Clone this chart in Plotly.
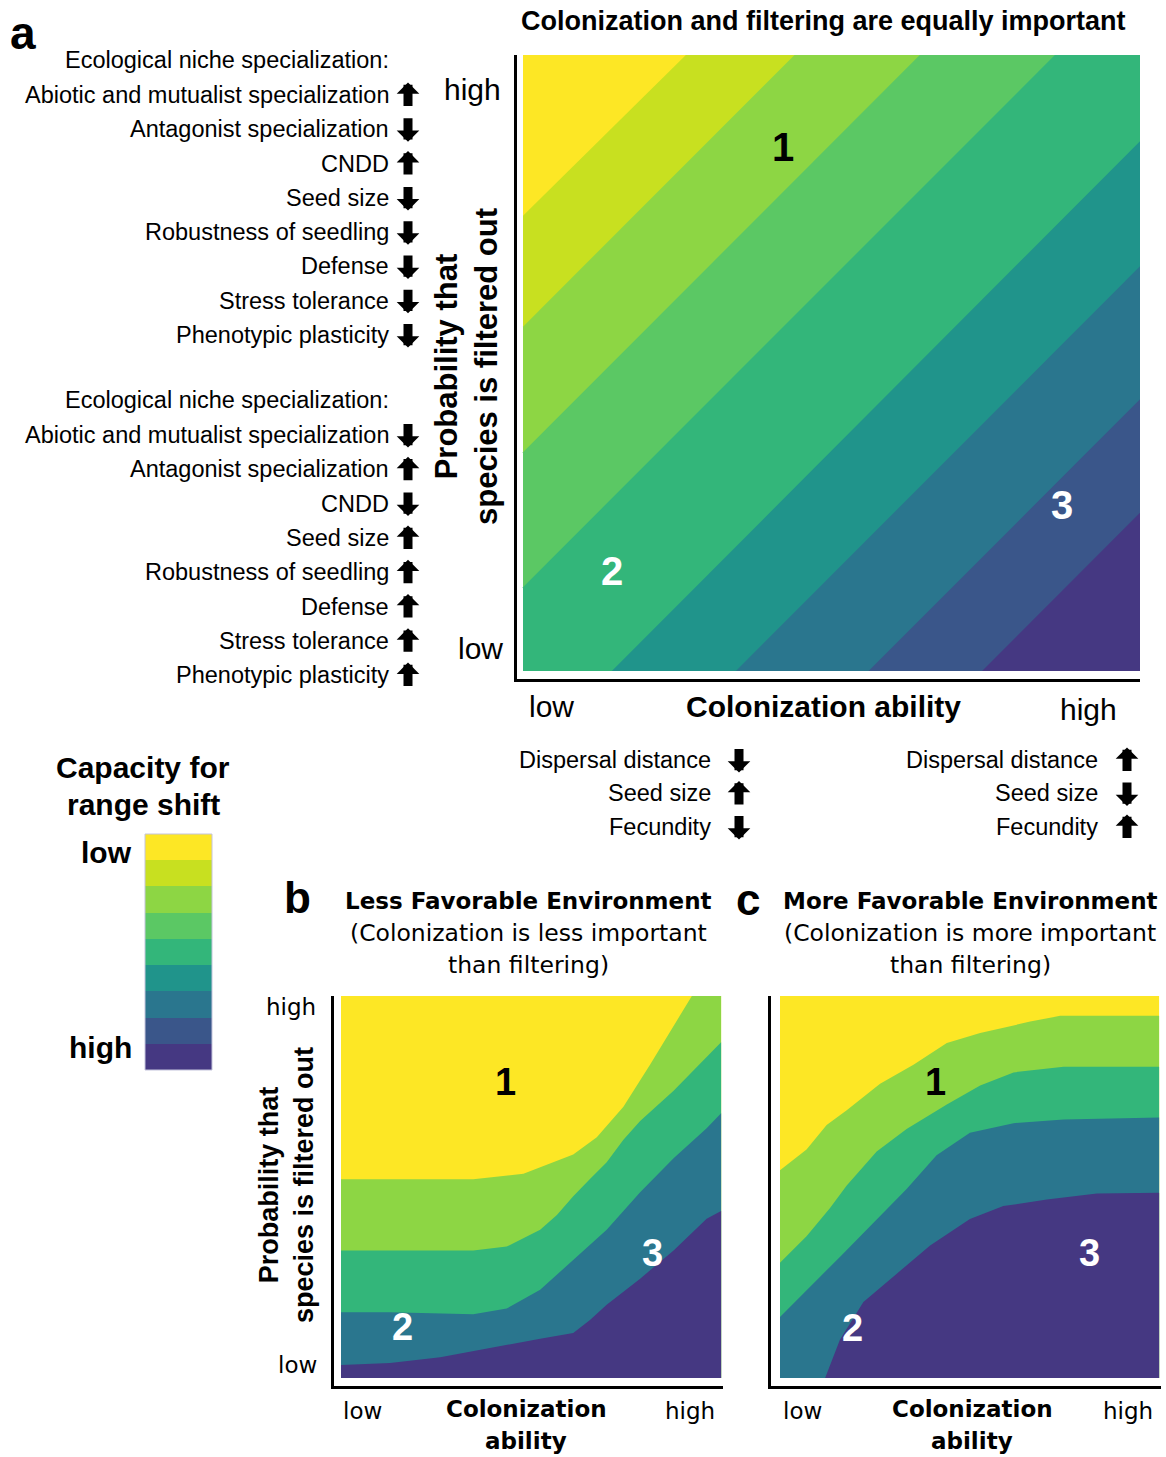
import plotly.graph_objects as go

W, H = 1166, 1457
ARIAL = "Liberation Sans, Arial, Helvetica, sans-serif"
VERD = "DejaVu Sans, Verdana, sans-serif"

# ---------------- data ----------------
capacity_levels = [0, 1, 2, 3, 4, 5, 6, 7, 8]          # 0 = low capacity, 8 = high capacity
capacity_labels = ["low", "", "", "", "", "", "", "", "high"]
capacity_colors = ["#fde725", "#c8e020", "#8dd644", "#5bc864", "#33b67a",
                   "#20948b", "#2a768e", "#3a568a", "#453882"]

# Panel a: band boundaries (normalized colonization x, filtering y), top-left to bottom-right
a_bound_x = [[0, 0.264], [0, 0.440], [0, 0.643], [0, 0.862],
             [0.144, 1], [0.345, 1], [0.560, 1], [0.744, 1]]
a_bound_y = [[0.739, 1], [0.559, 1], [0.355, 1], [0.136, 1],
             [0, 0.860], [0, 0.657], [0, 0.441], [0, 0.257]]
a_color_idx = [0, 1, 2, 3, 4, 5, 6, 7, 8]

# Panel b: less favorable environment
b_bound_x = [
    [0, 0.348, 0.480, 0.611, 0.673, 0.743, 0.813, 0.875, 0.923, 1.0],
    [0, 0.348, 0.436, 0.524, 0.568, 0.611, 0.655, 0.699, 0.743, 0.787, 0.875, 0.962, 1.0],
    [0, 0.129, 0.348, 0.436, 0.524, 0.568, 0.611, 0.655, 0.699, 0.787, 0.875, 0.962, 1.0],
    [0, 0.129, 0.261, 0.392, 0.524, 0.611, 0.655, 0.699, 0.787, 0.875, 0.962, 1.0],
]
b_bound_y = [
    [0.520, 0.520, 0.535, 0.585, 0.630, 0.710, 0.820, 0.920, 1.0, 1.0],
    [0.334, 0.334, 0.344, 0.388, 0.427, 0.476, 0.521, 0.565, 0.624, 0.673, 0.752, 0.840, 0.879],
    [0.172, 0.172, 0.167, 0.182, 0.231, 0.270, 0.309, 0.349, 0.388, 0.486, 0.575, 0.654, 0.693],
    [0.034, 0.039, 0.054, 0.079, 0.103, 0.118, 0.152, 0.192, 0.260, 0.334, 0.417, 0.437],
]
b_color_idx = [0, 2, 4, 6, 8]

# Panel c: more favorable environment
c_bound_x = [
    [0, 0.070, 0.123, 0.176, 0.264, 0.352, 0.440, 0.528, 0.660, 0.739, 1.0],
    [0, 0.070, 0.132, 0.176, 0.255, 0.334, 0.440, 0.528, 0.616, 0.748, 1.0],
    [0, 0.070, 0.158, 0.246, 0.334, 0.413, 0.501, 0.616, 0.748, 1.0],
    [0, 0.119, 0.158, 0.220, 0.308, 0.396, 0.501, 0.589, 0.704, 0.836, 1.0],
]
c_bound_y = [
    [0.544, 0.598, 0.662, 0.701, 0.770, 0.820, 0.877, 0.903, 0.933, 0.948, 0.948],
    [0.302, 0.371, 0.445, 0.504, 0.593, 0.652, 0.716, 0.766, 0.800, 0.815, 0.815],
    [0.160, 0.229, 0.317, 0.406, 0.495, 0.583, 0.642, 0.667, 0.677, 0.682],
    [0.0, 0.0, 0.100, 0.199, 0.273, 0.347, 0.416, 0.450, 0.467, 0.483, 0.485],
]
c_color_idx = [0, 2, 4, 6, 8]

niche_traits = ["Abiotic and mutualist specialization", "Antagonist specialization", "CNDD",
                "Seed size", "Robustness of seedling", "Defense", "Stress tolerance",
                "Phenotypic plasticity"]
niche_dirs_high_filter = ["up", "down", "up", "down", "down", "down", "down", "down"]
niche_dirs_low_filter = ["down", "up", "down", "up", "up", "up", "up", "up"]
colon_traits = ["Dispersal distance", "Seed size", "Fecundity"]
colon_dirs_low = ["down", "up", "down"]
colon_dirs_high = ["up", "down", "up"]

# ---------------- helpers ----------------
def px(x):
    return x / W


def py(y):
    return 1 - y / H


def complete(xs, ys):
    xs, ys = list(xs), list(ys)
    if xs[0] > 0:
        xs.insert(0, 0.0)
        ys.insert(0, ys[0])
    if xs[-1] < 1:
        xs.append(1.0)
        ys.append(ys[-1])
    return xs, ys


fig = go.Figure()


def add_bands(bx, by, cidx, xa, ya):
    cols = [capacity_colors[i] for i in cidx]
    fig.add_trace(go.Scatter(x=[0, 1], y=[1, 1], mode="lines", line=dict(width=0),
                             fill="tozeroy", fillcolor=cols[0], xaxis=xa, yaxis=ya,
                             hoverinfo="skip", showlegend=False))
    for i in range(len(bx)):
        xs, ys = complete(bx[i], by[i])
        fig.add_trace(go.Scatter(x=xs, y=ys, mode="lines", line=dict(width=0),
                                 fill="tozeroy", fillcolor=cols[i + 1], xaxis=xa, yaxis=ya,
                                 hoverinfo="skip", showlegend=False))


add_bands(a_bound_x, a_bound_y, a_color_idx, "x", "y")
add_bands(b_bound_x, b_bound_y, b_color_idx, "x2", "y2")
add_bands(c_bound_x, c_bound_y, c_color_idx, "x3", "y3")

# colour key
cscale = []
n = len(capacity_colors)
for i, c in enumerate(capacity_colors):
    cscale.append([i / n, c])
    cscale.append([(i + 1) / n, c])
fig.add_trace(go.Heatmap(x=[0], y=capacity_levels, z=[[v] for v in capacity_levels],
                         colorscale=cscale, zmin=-0.5, zmax=n - 0.5, showscale=False,
                         xaxis="x4", yaxis="y4", hoverinfo="skip"))


def axis(domain, rng, anchor):
    return dict(domain=domain, range=rng, anchor=anchor, showline=True, linewidth=3,
                linecolor="black", showgrid=False, zeroline=False, showticklabels=False,
                ticks="", fixedrange=True)


layout = dict(
    width=W, height=H, autosize=False,
    margin=dict(l=0, r=0, t=0, b=0),
    paper_bgcolor="white", plot_bgcolor="white",
    showlegend=False,
    xaxis=axis([px(517), px(1140)], [-6 / 617, 1], "y"),
    yaxis=axis([py(679), py(55)], [-8 / 616, 1], "x"),
    xaxis2=axis([px(334), px(723)], [-7 / 380, 1.005], "y2"),
    yaxis2=axis([py(1386), py(996)], [-8 / 382, 1], "x2"),
    xaxis3=axis([px(771), px(1161)], [-9 / 379, 1.005], "y3"),
    yaxis3=axis([py(1386), py(996)], [-8 / 382, 1], "x3"),
    xaxis4=dict(domain=[px(145), px(212)], anchor="y4", visible=False, fixedrange=True),
    yaxis4=dict(domain=[py(1070), py(834)], anchor="x4", visible=False,
                autorange="reversed", fixedrange=True),
)
fig.update_layout(**layout)

fig.add_shape(type="rect", xref="x4 domain", yref="y4 domain", x0=0, x1=1, y0=0, y1=1,
              line=dict(color="#c4c4dc", width=1))

ann = []


def text(x, y, s, size, family=ARIAL, color="black", xanchor="center", bold=False, angle=0):
    if bold:
        s = "<b>" + s + "</b>"
    ann.append(dict(x=px(x), y=py(y), xref="paper", yref="paper", text=s, showarrow=False,
                    xanchor=xanchor, yanchor="middle", textangle=angle,
                    font=dict(family=family, size=size, color=color)))


def arrow(x, yc, direction, length=25):
    if direction == "up":
        tip, ay = yc - length / 2, length
    else:
        tip, ay = yc + length / 2, -length
    ann.append(dict(x=px(x), y=py(tip), xref="paper", yref="paper", text="", showarrow=True,
                    ax=0, ay=ay, arrowhead=1, arrowwidth=9, arrowsize=0.42,
                    arrowcolor="black"))


# panel letters
text(23, 33, "a", 46, bold=True)
text(297, 897, "b", 44, bold=True)
text(748, 899, "c", 44, bold=True)

# panel a title
text(823, 21, "Colonization and filtering are equally important", 27, bold=True)

# left list
for gi, (hy, dirs) in enumerate([(60, niche_dirs_high_filter), (400, niche_dirs_low_filter)]):
    text(391, hy, "Ecological niche specialization:", 23.5, xanchor="right")
    for i, (t, d) in enumerate(zip(niche_traits, dirs)):
        yy = hy + 35 + i * 34.3
        text(391, yy, t, 23.5, xanchor="right")
        arrow(408, yy, d)

# panel a axes labels
text(472, 90, "high", 30)
text(480, 649, "low", 30)
text(466, 367, "Probability that<br>species is filtered out", 31, bold=True, angle=-90)
text(551, 707, "low", 30)
text(823, 707, "Colonization ability", 30, bold=True)
text(1088, 709, "high", 30)

for i, (t, dl, dh) in enumerate(zip(colon_traits, colon_dirs_low, colon_dirs_high)):
    yy = 760 + i * 33.5
    text(713, yy, t, 23.5, xanchor="right")
    arrow(739, yy, dl)
    text(1100, yy, t, 23.5, xanchor="right")
    arrow(1127, yy, dh)

# region numbers
text(783, 147, "1", 40, bold=True)
text(612, 571, "2", 40, bold=True, color="white")
text(1062, 505, "3", 40, bold=True, color="white")
text(505, 1082, "1", 38, bold=True)
text(403, 1327, "2", 38, bold=True, color="white")
text(652, 1253, "3", 38, bold=True, color="white")
text(935, 1082, "1", 38, bold=True)
text(852, 1328, "2", 38, bold=True, color="white")
text(1089, 1253, "3", 38, bold=True, color="white")

# colour key labels
text(143, 767, "Capacity for", 30, bold=True)
text(143, 804, "range shift", 30, bold=True)
text(134, 852, capacity_labels[0], 30, bold=True, xanchor="right")
text(134, 1047, capacity_labels[-1], 30, bold=True, xanchor="right")

# panel b / c titles
text(528, 901, "Less Favorable Environment", 23, family=VERD, bold=True)
text(528, 933, "(Colonization is less important", 23.5, family=VERD)
text(528, 965, "than filtering)", 23.5, family=VERD)
text(970, 901, "More Favorable Environment", 23, family=VERD, bold=True)
text(970, 933, "(Colonization is more important", 23.5, family=VERD)
text(970, 965, "than filtering)", 23.5, family=VERD)

# panel b axes
text(286, 1185, "Probability that<br>species is filtered out", 27, bold=True, angle=-90)
text(291, 1007, "high", 23, family=VERD)
text(297, 1365, "low", 23, family=VERD)
for cx, lx, hx in [(526, 362, 690), (972, 802, 1128)]:
    text(lx, 1411, "low", 23, family=VERD)
    text(cx, 1409, "Colonization", 23, family=VERD, bold=True)
    text(cx, 1441, "ability", 23, family=VERD, bold=True)
    text(hx, 1411, "high", 23, family=VERD)

fig.update_layout(annotations=ann)
fig.write_html("out.html", config={"displayModeBar": False},
               post_script="document.body.style.margin='0px';document.body.style.overflow='hidden';")
